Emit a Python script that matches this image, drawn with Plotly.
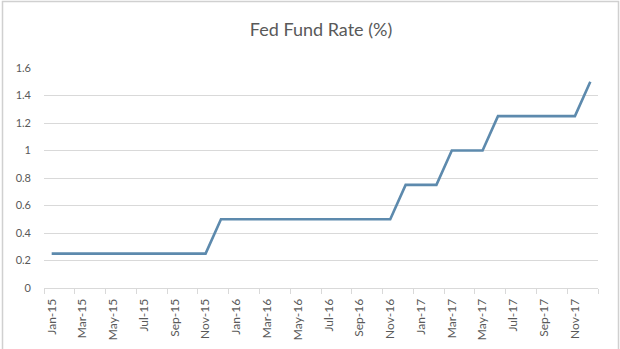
import plotly.graph_objects as go

# Monthly effective Fed funds target rate, Jan 2015 - Dec 2017
months = [
    "Jan-15", "Feb-15", "Mar-15", "Apr-15", "May-15", "Jun-15",
    "Jul-15", "Aug-15", "Sep-15", "Oct-15", "Nov-15", "Dec-15",
    "Jan-16", "Feb-16", "Mar-16", "Apr-16", "May-16", "Jun-16",
    "Jul-16", "Aug-16", "Sep-16", "Oct-16", "Nov-16", "Dec-16",
    "Jan-17", "Feb-17", "Mar-17", "Apr-17", "May-17", "Jun-17",
    "Jul-17", "Aug-17", "Sep-17", "Oct-17", "Nov-17", "Dec-17",
]
rates = [
    0.25, 0.25, 0.25, 0.25, 0.25, 0.25,
    0.25, 0.25, 0.25, 0.25, 0.25, 0.5,
    0.5, 0.5, 0.5, 0.5, 0.5, 0.5,
    0.5, 0.5, 0.5, 0.5, 0.5, 0.75,
    0.75, 0.75, 1.0, 1.0, 1.0, 1.25,
    1.25, 1.25, 1.25, 1.25, 1.25, 1.5,
]
y_ticks = [0, 0.2, 0.4, 0.6, 0.8, 1, 1.2, 1.4, 1.6]
y_tick_labels = ["0", "0.2", "0.4", "0.6", "0.8", "1", "1.2", "1.4", "1.6"]

text_color = "#595959"
grid_color = "#d9d9d9"

fig = go.Figure(
    go.Scatter(
        x=months,
        y=rates,
        mode="lines",
        line=dict(color="#5d8aad", width=2.6),
        hoverinfo="x+y",
    )
)

W, H = 620, 349
ml, mr, mt, mb = 44, 22, 68, 61
pw, ph = W - ml - mr, H - mt - mb

fig.update_layout(
    width=W,
    height=H,
    margin=dict(l=ml, r=mr, t=mt, b=mb),
    paper_bgcolor="white",
    plot_bgcolor="white",
    showlegend=False,
    font=dict(family="Lato, 'Open Sans', sans-serif", color=text_color),
    title=dict(
        text="Fed Fund Rate (%)",
        x=0.5,
        xanchor="center",
        xref="paper",
        y=1 - 30 / H,
        yanchor="middle",
        font=dict(size=18, color=text_color, family="Lato, sans-serif"),
    ),
    xaxis=dict(
        type="category",
        categoryorder="array",
        categoryarray=months,
        dtick=2,
        tickson="boundaries",
        ticks="outside",
        ticklen=5,
        tickcolor=grid_color,
        tickangle=-90,
        tickfont=dict(size=12, color=text_color),
        ticklabelstandoff=5,
        automargin=False,
        showgrid=False,
        showline=True,
        linecolor=grid_color,
        linewidth=1,
        zeroline=False,
        range=[-0.5, len(months) - 0.5],
        fixedrange=True,
    ),
    yaxis=dict(
        range=[0, 1.6],
        tickmode="array",
        tickvals=y_ticks,
        ticktext=y_tick_labels,
        tickfont=dict(size=11, color=text_color),
        showgrid=True,
        gridcolor=grid_color,
        gridwidth=1,
        zeroline=False,
        showline=False,
        ticks="",
        ticklabelstandoff=12,
        automargin=False,
        fixedrange=True,
    ),
    shapes=[
        dict(
            type="rect",
            xref="paper",
            yref="paper",
            x0=(2.5 - ml) / pw,
            x1=(618.5 - ml) / pw,
            y0=(H - mt - (H + 5)) / ph,
            y1=(H - mb - 1.5) / ph,
            line=dict(color="#d0d0d0", width=1.5),
            fillcolor="rgba(0,0,0,0)",
            layer="below",
        )
    ],
)

fig.write_html("out.html")
